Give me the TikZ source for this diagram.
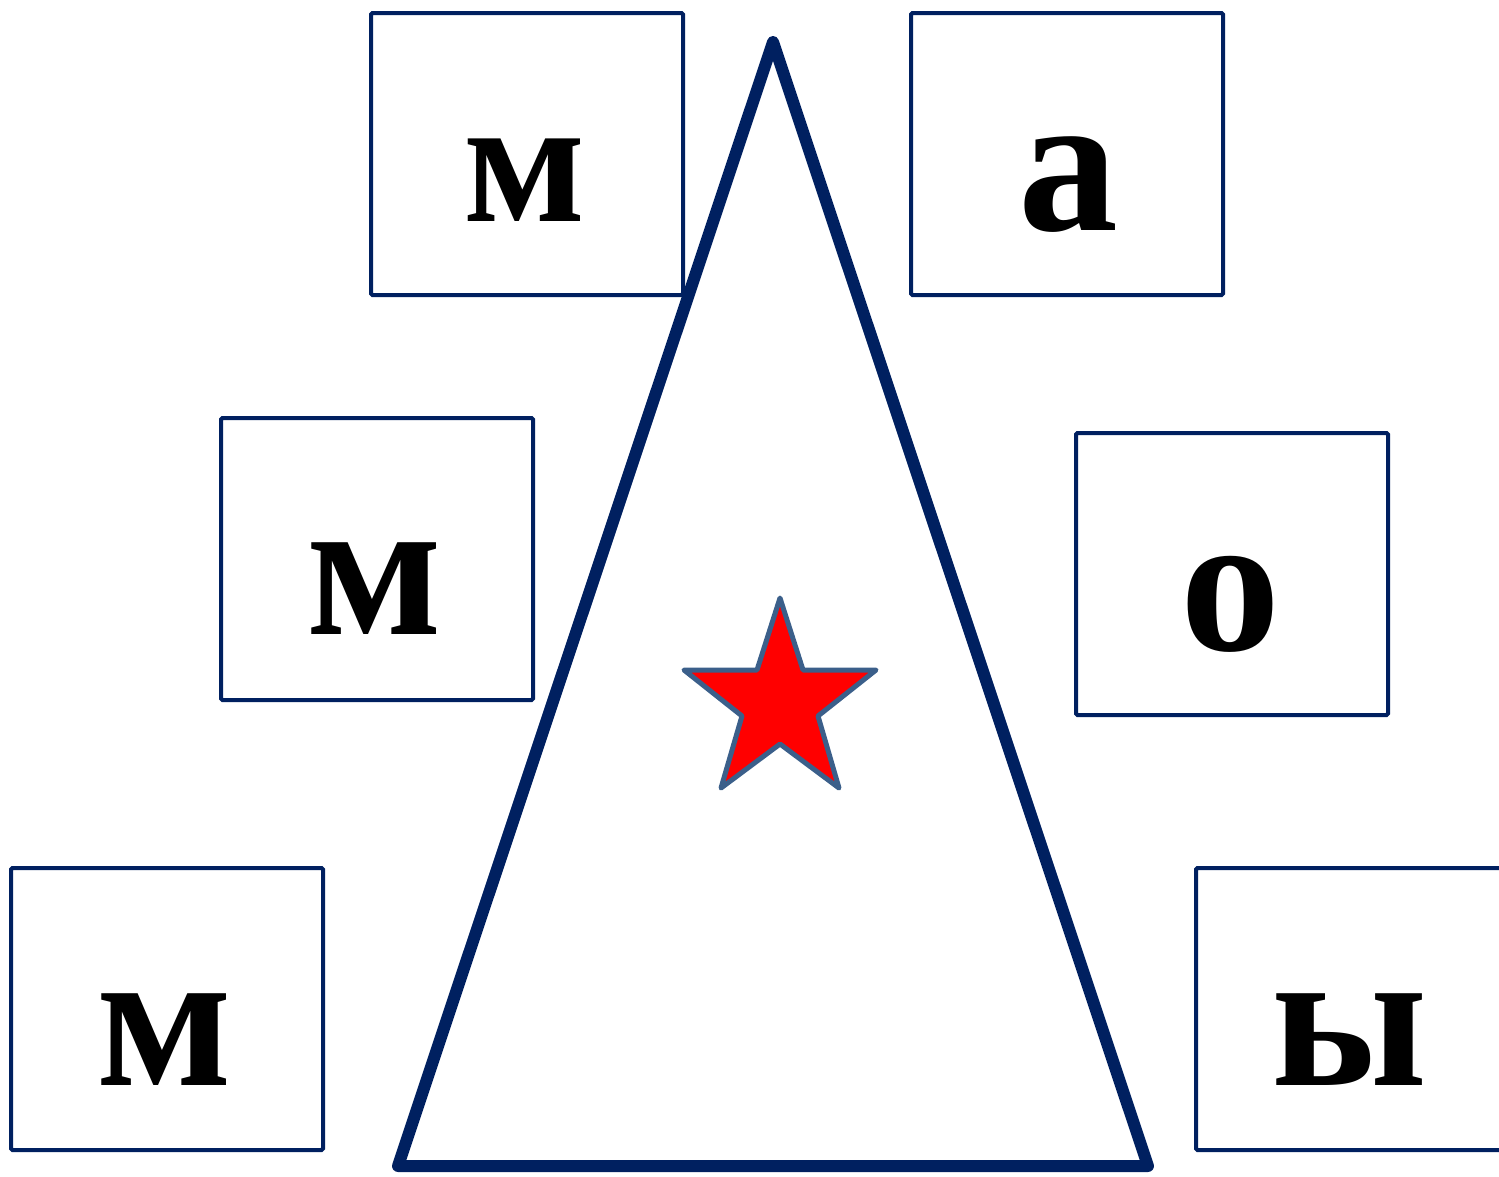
\documentclass[tikz,border=0pt]{standalone}
\usepackage{fontspec}
\setmainfont{Liberation Serif}
\definecolor{navy}{HTML}{002060}
\definecolor{starline}{HTML}{3B5F8A}
\begin{document}
\begin{tikzpicture}[x=1pt,y=-1pt,
  letterbox/.style={draw=navy,line width=4pt,rounded corners=1.5pt,inner sep=0pt,
    minimum width=312pt,minimum height=282pt,anchor=north west},
  letter/.style={anchor=base,inner sep=0pt,font=\bfseries\fontsize{200}{200}\selectfont},
  smallletter/.style={letter,font=\bfseries\fontsize{180}{180}\selectfont}]
\useasboundingbox (0,0) rectangle (1499,1176);
\begin{scope}
\clip (0,0) rectangle (1499,1176);
% boxes
\node[letterbox] (b1) at (369,11) {};
\node[letterbox] (b2) at (219,416) {};
\node[letterbox] (b3) at (9,866) {};
\node[letterbox] (b4) at (909,11) {};
\node[letterbox] (b5) at (1074,431) {};
\node[letterbox] (b6) at (1194,866) {};
% letters
\node[smallletter] (t1) at (525,221) {м};
\node[letter] (t2) at (375,634) {м};
\node[letter] (t3) at (165,1085) {м};
\node[letter] (t4) at (1068,230) {а};
\node[letter] (t5) at (1230,650) {о};
\node[letter] (t6) at (1350,1085) {ы};
% triangle
\coordinate (apex) at (773,42);
\coordinate (bl) at (398,1166);
\coordinate (br) at (1148,1166);
\draw[navy,line width=12pt,line join=round] (apex) -- (bl) -- (br) -- cycle;
% star
\draw[starline,fill=red,line width=5pt,line join=round]
  (780,598) -- (803,670) -- (876,670) -- (818,716) -- (839,788) -- (780,744)
  -- (721,788) -- (742,716) -- (684,670) -- (757,670) -- cycle;
\end{scope}
\end{tikzpicture}
\end{document}
